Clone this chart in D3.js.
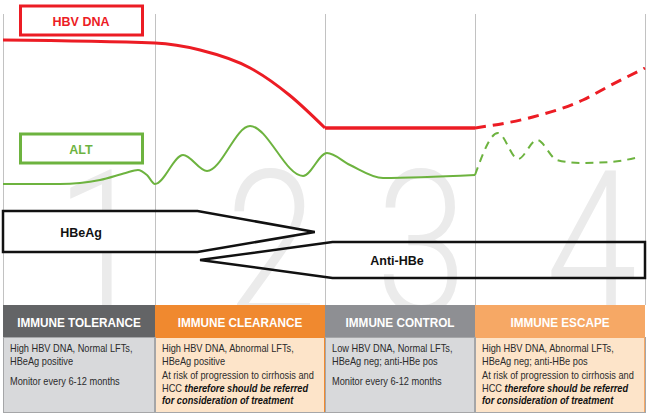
<!DOCTYPE html>
<html><head><meta charset="utf-8">
<script src="https://cdn.jsdelivr.net/npm/d3@7/dist/d3.min.js"></script>
<style>body{margin:0;background:#fff}svg{display:block}</style>
</head><body><svg id="c" width="650" height="420"></svg>
<script>
// ---- data ----
const phaseBounds = [0, 1, 2, 3, 4];
const phaseNumbers = ["1", "2", "3", "4"];
const phaseNames = ["IMMUNE TOLERANCE", "IMMUNE CLEARANCE", "IMMUNE CONTROL", "IMMUNE ESCAPE"];
const phaseNotes = [
  [[[["High HBV DNA, Normal LFTs,", 0]], [["HBeAg positive", 0]]],
   [[["Monitor every 6-12 months", 0]]]],
  [[[["High HBV DNA, Abnormal LFTs,", 0]], [["HBeAg positive", 0]]],
   [[["At risk of progression to cirrhosis and", 0]],
    [["HCC ", 0], ["therefore should be referred", 1]],
    [["for consideration of treatment", 1]]]],
  [[[["Low HBV DNA, Normal LFTs,", 0]], [["HBeAg neg; anti-HBe pos", 0]]],
   [[["Monitor every 6-12 months", 0]]]],
  [[[["High HBV DNA, Abnormal LFTs,", 0]], [["HBeAg neg; anti-HBe pos", 0]]],
   [[["At risk of progression to cirrhosis and", 0]],
    [["HCC ", 0], ["therefore should be referred", 1]],
    [["for consideration of treatment", 1]]]]
];
const seriesNames = ["HBV DNA", "ALT"];
const hbvDnaSolid = [{t:0,v:80},{t:1,v:78.5},{t:1.265,v:75},{t:1.56,v:66},{t:1.79,v:52.5},{t:2,v:36}];
const hbvDnaPlateau = [{t:2,v:36},{t:3,v:36}];
const hbvDnaDashed = [{t:3,v:36},{t:3.34,v:41.5},{t:3.635,v:50},{t:3.79,v:57},{t:4,v:66}];
const altSolid = [{t:0,v:8},{t:0.375,v:8},{t:0.638,v:10},{t:0.806,v:13.5},{t:0.888,v:15},{t:0.947,v:12.5},{t:1,v:8},
  {t:1.165,v:22.5},{t:1.306,v:14.5},{t:1.559,v:37},{t:1.871,v:12},{t:2.013,v:23.5},{t:2.167,v:17.5},{t:2.387,v:11},{t:3,v:12.5}];
const altDashed = [{t:3,v:12.5},{t:3.135,v:33.5},{t:3.253,v:20.5},{t:3.365,v:30},{t:3.482,v:20},{t:3.618,v:18.5},{t:3.794,v:19},{t:3.97,v:21.5}];
const markerLabels = ["HBeAg", "Anti-HBe"];
const hbeagSpan = {start:0, taper:1.25, end:1.94};
const antiHbeSpan = {tip:1.265, taper:2.05, end:4};

// ---- layout ----
const svg = d3.select("#c");
const x = d3.scaleLinear().domain(phaseBounds).range([3, 155, 325, 475, 645]);
const y = d3.scaleLinear().domain([0, 100]).range([200, 0]);
const RED = "#ec1c24", GREEN = "#6db33f";
const headerColors = ["#636466", "#f0892f", "#8e8f93", "#f6a865"];
const bodyColors = ["#d8d9db", "#fde4c9", "#d8d9db", "#fde4c9"];
const bodyStroke = ["#a5a6a8", "#f0892f", "#a5a6a8", "#f6a865"];
const sans = "'Liberation Sans',Arial,sans-serif";

// big background numbers
svg.selectAll("text.num").data(phaseNumbers).join("text")
  .attr("class", "num")
  .attr("transform", (d, i) => `translate(${x(i + 1) - 8},313) scale(0.82,1)`)
  .attr("text-anchor", "end")
  .attr("font-family", "Roboto, 'Open Sans', sans-serif").attr("font-weight", 300)
  .attr("font-size", 200).attr("fill", "#ebebeb").text(d => d);

// HBeAg arrow fill
const yA1 = 211, yA2 = 252, yB1 = 242, yB2 = 278;
const hbeagPts = [[x(hbeagSpan.start), yA1], [x(hbeagSpan.taper), yA1], [x(hbeagSpan.end), (yA1 + yA2) / 2 + 0.5],
  [x(hbeagSpan.taper), yA2], [x(hbeagSpan.start), yA2]];
svg.append("polygon").attr("points", hbeagPts.map(p => p.join(",")).join(" "))
  .attr("fill", "#fff").attr("stroke", "none");

// vertical phase lines
svg.selectAll("line.ph").data(phaseBounds).join("line")
  .attr("class", "ph")
  .attr("x1", d => x(d) + 0.5).attr("x2", d => x(d) + 0.5)
  .attr("y1", 14).attr("y2", 305)
  .attr("stroke", "#c2c2c2").attr("stroke-width", 1);

// arrows strokes
svg.append("polygon").attr("points", hbeagPts.map(p => p.join(",")).join(" "))
  .attr("fill", "none").attr("stroke", "#111").attr("stroke-width", 2.5).attr("stroke-linejoin", "miter");
const antiPts = [[x(antiHbeSpan.tip), (yB1 + yB2) / 2], [x(antiHbeSpan.taper), yB1], [x(antiHbeSpan.end), yB1],
  [x(antiHbeSpan.end), yB2], [x(antiHbeSpan.taper), yB2]];
svg.append("polygon").attr("points", antiPts.map(p => p.join(",")).join(" "))
  .attr("fill", "none").attr("stroke", "#111").attr("stroke-width", 2.5);
svg.append("text").attr("x", 81).attr("y", 236.5).attr("text-anchor", "middle")
  .attr("font-family", sans).attr("font-weight", "bold").attr("font-size", 12.5).attr("fill", "#111").text(markerLabels[0]);
svg.append("text").attr("x", 397).attr("y", 264.5).attr("text-anchor", "middle")
  .attr("font-family", sans).attr("font-weight", "bold").attr("font-size", 12.5).attr("fill", "#111").text(markerLabels[1]);

// lines
const line = d3.line().x(d => x(d.t)).y(d => y(d.v)).curve(d3.curveMonotoneX);
const lin = d3.line().x(d => x(d.t)).y(d => y(d.v));
svg.append("path").attr("d", line(altSolid)).attr("fill", "none").attr("stroke", GREEN).attr("stroke-width", 2);
svg.append("path").attr("d", line(altDashed)).attr("fill", "none").attr("stroke", GREEN).attr("stroke-width", 2)
  .attr("stroke-dasharray", "8,6");
svg.append("path").attr("d", line(hbvDnaSolid)).attr("fill", "none").attr("stroke", RED).attr("stroke-width", 3);
svg.append("path").attr("d", lin(hbvDnaPlateau)).attr("fill", "none").attr("stroke", RED).attr("stroke-width", 3.5);
svg.append("path").attr("d", line(hbvDnaDashed)).attr("fill", "none").attr("stroke", RED).attr("stroke-width", 3)
  .attr("stroke-dasharray", "11,7");

// series label boxes
const boxes = [{y: 6, c: RED}, {y: 134, c: GREEN}];
boxes.forEach((b, i) => {
  svg.append("rect").attr("x", 20.5).attr("y", b.y).attr("width", 122).attr("height", 29)
    .attr("fill", "#fff").attr("stroke", b.c).attr("stroke-width", 3);
  svg.append("text").attr("x", 81).attr("y", b.y + 19.5).attr("text-anchor", "middle")
    .attr("font-family", sans).attr("font-weight", "bold").attr("font-size", 12.5).attr("fill", b.c)
    .text(seriesNames[i]);
});

// bottom panels
const hTop = 305, hBot = 337, bBot = 413;
phaseNames.forEach((name, i) => {
  const x0 = x(i), x1 = x(i + 1);
  svg.append("rect").attr("x", x0).attr("y", hTop).attr("width", x1 - x0).attr("height", hBot - hTop)
    .attr("fill", headerColors[i]);
  svg.append("rect").attr("x", x0 + 0.5).attr("y", hBot + 0.5).attr("width", x1 - x0 - 1).attr("height", bBot - hBot - 1)
    .attr("fill", bodyColors[i]).attr("stroke", bodyStroke[i]).attr("stroke-width", 1);
  svg.append("text").attr("transform", `translate(${(x0 + x1) / 2},${hTop + 21.5}) scale(0.87,1)`)
    .attr("text-anchor", "middle")
    .attr("font-family", sans).attr("font-weight", "bold").attr("font-size", 13.5).attr("fill", "#fff").text(name);
  const paraY = [352, i % 2 === 0 ? 385 : 379];
  phaseNotes[i].forEach((para, pi) => {
    para.forEach((ln, li) => {
      const t = svg.append("text")
        .attr("transform", `translate(${x0 + 7},${paraY[pi] + li * 12.5}) scale(0.88,1)`)
        .attr("font-family", sans).attr("font-size", 10.5).attr("fill", "#2b2b2b");
      ln.forEach(seg => {
        t.append("tspan").text(seg[0])
          .attr("font-weight", seg[1] ? "bold" : "normal")
          .attr("font-style", seg[1] ? "italic" : "normal")
          .attr("fill", seg[1] ? "#111" : "#2b2b2b");
      });
    });
  });
});
// divider lines through panel bodies
svg.selectAll("line.pb").data(phaseBounds).join("line")
  .attr("class", "pb")
  .attr("x1", d => x(d) + 0.5).attr("x2", d => x(d) + 0.5)
  .attr("y1", hBot).attr("y2", bBot)
  .attr("stroke", "#a5a6a8").attr("stroke-width", 1);
svg.append("line").attr("x1", 3).attr("x2", 645).attr("y1", bBot - 0.5).attr("y2", bBot - 0.5)
  .attr("stroke", "#a5a6a8");
</script></body></html>
